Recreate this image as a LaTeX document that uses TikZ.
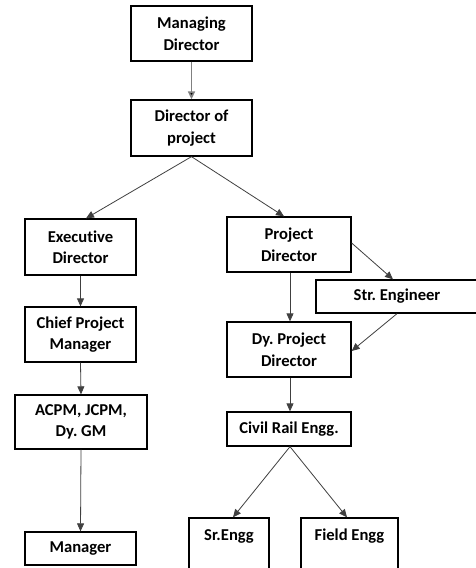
\documentclass[tikz,border=0pt]{standalone}
\usepackage{fontspec}
\setmainfont[Ligatures=NoCommon]{Carlito}
\usetikzlibrary{arrows.meta}
\begin{document}
\frenchspacing
\begin{tikzpicture}[x=1pt,y=-1pt,
  lbl/.style={font=\fontsize{16.6}{21.5}\selectfont\bfseries\frenchspacing,text=black,align=center},
  box/.style={lbl,draw=black,line width=1.3pt,rectangle,inner sep=0pt},
  conn/.style={draw=black!75,line width=0.8pt,-{Triangle[length=8pt,width=7pt]}},
  connG/.style={draw=black!50,line width=1.6pt,-{Triangle[length=8pt,width=7pt,fill=black]}}]
\useasboundingbox (0,0) rectangle (476,568);
\clip (0,0) rectangle (476,568);
\fill[white] (0,0) rectangle (476,568);
% left / top column
\node[box,minimum width=121pt,minimum height=55pt] (md) at (191.5,33.5) {Managing\\Director};
\node[box,minimum width=121pt,minimum height=56pt] (dop) at (191.5,128) {Director of\\project};
\node[box,minimum width=111pt,minimum height=56pt] (ed) at (80.5,247) {Executive\\Director};
\node[box,minimum width=111pt,minimum height=55pt] (cpm) at (80.5,334.5) {Chief Project\\Manager};
\node[box,minimum width=132pt,minimum height=54pt] (acpm) at (81,422) {ACPM, JCPM,\\Dy. GM};
\node[box,minimum width=111pt,minimum height=33pt] (mgr) at (80.5,548.5) {Manager};
% right column
\node[box,minimum width=124pt,minimum height=55pt] (pd) at (289,244.5) {Project\\Director};
\node[box,minimum width=162pt,minimum height=33pt] (se) at (397,296.5) {Str. Engineer};
\node[box,minimum width=124pt,minimum height=55pt] (dpd) at (289,349.5) {Dy. Project\\Director};
\node[box,minimum width=124pt,minimum height=34pt] (cre) at (289,429) {Civil Rail Engg.};
\node[box,minimum width=80pt,minimum height=62pt] (sr) at (229,549) {};
\node[lbl] (srt) at (229,536) {Sr.Engg};
\node[box,minimum width=97pt,minimum height=62pt] (fe) at (349.5,549) {};
\node[lbl] (fet) at (349.5,536) {Field Engg};
% connectors
\draw[connG] (md.south) -- (dop.north);
\draw[conn] (dop.south) -- ([xshift=5.5pt]ed.north);
\draw[conn] (dop.south) -- ([xshift=-5pt]pd.north);
\draw[conn] ([yshift=1.5pt]pd.east) -- ([xshift=-4pt]se.north);
\draw[conn] ([xshift=1pt]pd.south) -- ([xshift=1pt]dpd.north);
\draw[conn] (se.south) -- ([yshift=-1.5pt]dpd.east);
\draw[conn] (ed.south) -- (cpm.north);
\draw[conn] (cpm.south) -- (acpm.north);
\draw[conn] (acpm.south) -- (mgr.north);
\draw[conn] ([xshift=1pt]dpd.south) -- ([xshift=1pt]cre.north);
\draw[conn] ([xshift=1pt]cre.south) -- ([xshift=4pt]sr.north);
\draw[conn] ([xshift=1pt]cre.south) -- ([xshift=-2.5pt]fe.north);
\end{tikzpicture}
\end{document}
